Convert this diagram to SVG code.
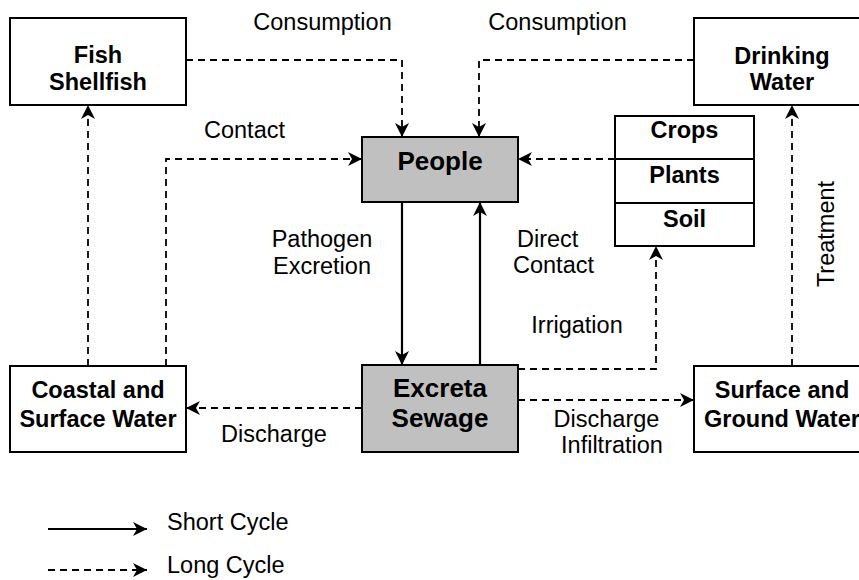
<svg xmlns="http://www.w3.org/2000/svg" width="859" height="580" viewBox="0 0 859 580">
<defs>
<marker id="ah" markerUnits="userSpaceOnUse" markerWidth="16" markerHeight="16" viewBox="0 0 16 16" refX="15" refY="8" orient="auto">
<path d="M1,1 L15,8 L1,15 L5,8 Z" fill="#000"/>
</marker>
<style>
.box{fill:#fff;stroke:#000;stroke-width:2}
.gray{fill:#c0c0c0;stroke:#000;stroke-width:2}
.bt{font-family:"Liberation Sans",Arial,sans-serif;font-weight:bold;font-size:23.5px;text-anchor:middle;fill:#000}
.big{font-size:26px}
.lbl{font-family:"Liberation Sans",Arial,sans-serif;font-size:23.5px;fill:#000}
.solid{fill:none;stroke:#000;stroke-width:2.2;marker-end:url(#ah)}
.dash{fill:none;stroke:#000;stroke-width:1.8;stroke-dasharray:7 5;marker-end:url(#ah)}
</style>
</defs>
<rect width="859" height="580" fill="#fff"/>
<g id="connectors">
<path class="dash" d="M186,60 H402 V137"/>
<path class="dash" d="M694,60 H479 V137"/>
<path class="dash" d="M166,366 V159 H362"/>
<path class="dash" d="M88,366 V105"/>
<path class="dash" d="M615,159 H518"/>
<path class="solid" d="M402,202 V365"/>
<path class="solid" d="M480,365 V202"/>
<path class="dash" d="M518,369 H656 V246"/>
<path class="dash" d="M518,400 H694"/>
<path class="dash" d="M362,408 H186"/>
<path class="dash" d="M792,366 V105"/>
</g>
<g id="labels">
<text class="lbl" x="322.5" y="30" text-anchor="middle">Consumption</text>
<text class="lbl" x="557.5" y="30" text-anchor="middle">Consumption</text>
<text class="lbl" x="244.5" y="138" text-anchor="middle">Contact</text>
<text class="lbl" x="322" y="247" text-anchor="middle">Pathogen</text>
<text class="lbl" x="322" y="274" text-anchor="middle">Excretion</text>
<text class="lbl" x="517" y="247">Direct</text>
<text class="lbl" x="513" y="273">Contact</text>
<text class="lbl" x="577" y="333" text-anchor="middle">Irrigation</text>
<text class="lbl" x="274" y="442" text-anchor="middle">Discharge</text>
<text class="lbl" x="606.5" y="427" text-anchor="middle">Discharge</text>
<text class="lbl" x="612" y="453" text-anchor="middle">Infiltration</text>
<text class="lbl" x="0" y="0" text-anchor="middle" transform="translate(834,234) rotate(-90)">Treatment</text>
</g>
<g id="fish">
<rect class="box" x="10" y="18" width="176" height="87"/>
<text class="bt" x="98" y="63">Fish</text>
<text class="bt" x="98" y="90">Shellfish</text>
</g>
<g id="drinking">
<rect class="box" x="694" y="18" width="176" height="87"/>
<text class="bt" x="782" y="64">Drinking</text>
<text class="bt" x="782" y="90">Water</text>
</g>
<g id="people">
<rect class="gray" x="362" y="137" width="156" height="65"/>
<text class="bt big" x="440" y="170">People</text>
</g>
<g id="crops">
<rect class="box" x="615" y="116" width="139" height="130"/>
<line x1="615" y1="159" x2="754" y2="159" stroke="#000" stroke-width="2"/>
<line x1="615" y1="203" x2="754" y2="203" stroke="#000" stroke-width="2"/>
<text class="bt" x="684.5" y="138">Crops</text>
<text class="bt" x="684.5" y="183">Plants</text>
<text class="bt" x="684.5" y="227">Soil</text>
</g>
<g id="coastal">
<rect class="box" x="10" y="366" width="176" height="86"/>
<text class="bt" x="98" y="398">Coastal and</text>
<text class="bt" x="98" y="427">Surface Water</text>
</g>
<g id="excreta">
<rect class="gray" x="362" y="365" width="156" height="87"/>
<text class="bt big" x="440" y="397">Excreta</text>
<text class="bt big" x="440" y="427">Sewage</text>
</g>
<g id="surface">
<rect class="box" x="694" y="366" width="176" height="86"/>
<text class="bt" x="782" y="398">Surface and</text>
<text class="bt" x="782" y="427">Ground Water</text>
</g>
<g id="legend">
<line class="solid" x1="48" y1="529" x2="147" y2="529"/>
<text class="lbl" x="167" y="530">Short Cycle</text>
<line class="dash" x1="48" y1="570" x2="147" y2="570"/>
<text class="lbl" x="167" y="573">Long Cycle</text>
</g>
</svg>
